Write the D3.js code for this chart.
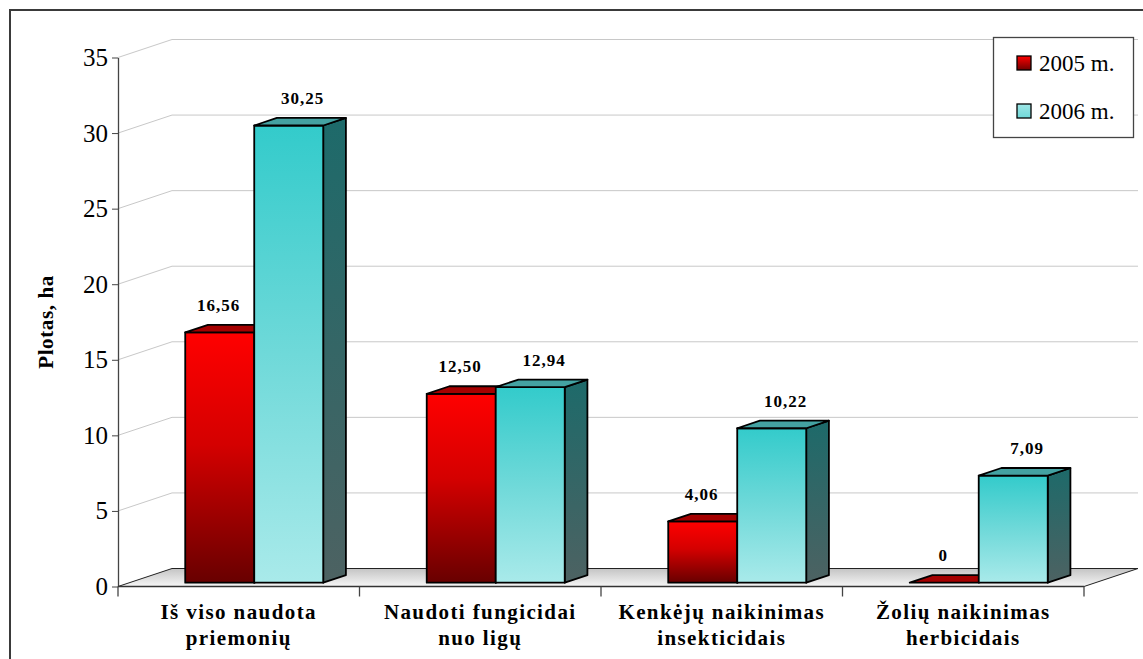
<!DOCTYPE html>
<html>
<head>
<meta charset="utf-8">
<script src="https://cdn.jsdelivr.net/npm/d3@7"></script>
<style>
  html, body { margin: 0; padding: 0; background: #ffffff; }
  svg { display: block; }
  text { font-family: "Liberation Serif", "Times New Roman", serif; fill: #000; }
</style>
</head>
<body>
<svg id="chart" width="1143" height="659"></svg>
<script>
// Treated area by plant protection product type, 2005 vs 2006
const categories = [
  "Iš viso naudota\npriemonių",
  "Naudoti fungicidai\nnuo ligų",
  "Kenkėjų naikinimas\ninsekticidais",
  "Žolių naikinimas\nherbicidais"
];
const seriesNames = ["2005 m.", "2006 m."];
const values2005 = [16.56, 12.50, 4.06, 0];
const values2006 = [30.25, 12.94, 10.22, 7.09];
const yTicks = [0, 5, 10, 15, 20, 25, 30, 35];
const yTitle = "Plotas, ha";

const svg = d3.select("#chart");
const defs = svg.append("defs");

// plot frame (front plane) and oblique depth vector
const plot = { left: 118, right: 1084, bottom: 586.5, top: 57.5 };
const DEPTH = { dx: 54, dy: -18 };
const barDepth = { t0: 0.21, t1: 0.63 };

const x = d3.scaleBand().domain(categories).range([plot.left, plot.right]).padding(0);
const xSub = d3.scaleBand().domain(seriesNames).range([0, x.bandwidth()])
  .paddingInner(0).paddingOuter(0.75).align(0.54);
const y = d3.scaleLinear().domain([0, 35]).range([plot.bottom, plot.top]);

const proj = (px, py, t) => [px + DEPTH.dx * t, py + DEPTH.dy * t];
const poly = pts => "M" + pts.map(p => p.join(",")).join("L") + "Z";

function vGrad(id, stops, horizontal) {
  const g = defs.append("linearGradient").attr("id", id)
    .attr("x1", 0).attr("y1", 0).attr("x2", horizontal ? 1 : 0).attr("y2", horizontal ? 0 : 1);
  stops.forEach(([o, c]) => g.append("stop").attr("offset", o).attr("stop-color", c));
}
vGrad("redFront", [[0, "#ff0000"], [0.45, "#d40000"], [1, "#680000"]]);
vGrad("cyanFront", [[0, "#33cbcb"], [0.5, "#6fd9d9"], [1, "#a9eaea"]]);
vGrad("cyanSide", [[0, "#1d6a6a"], [1, "#4d6262"]]);
vGrad("floorFill", [[0, "#c4c4c4"], [1, "#f6f6f6"]]);
vGrad("redSwatch", [[0, "#ff0000"], [1, "#700000"]]);
vGrad("cyanSwatch", [[0, "#9fe6e6"], [1, "#6fd9d9"]]);

const style = {
  "2005 m.": { front: "url(#redFront)", top: "#a50000", side: "#600000", swatch: "url(#redSwatch)" },
  "2006 m.": { front: "url(#cyanFront)", top: "#44a2a2", side: "url(#cyanSide)", swatch: "url(#cyanSwatch)" }
};

// outer chart border
svg.append("rect").attr("x", 10).attr("y", 10).attr("width", 1200).attr("height", 700)
  .attr("fill", "#fff").attr("stroke", "#3a3a3a").attr("stroke-width", 2);

// gridlines: back wall + left side wall
const grid = svg.append("g").attr("stroke", "#c8c8c8").attr("stroke-width", 1).attr("fill", "none");
yTicks.filter(v => v > 0).forEach(v => {
  const a = [plot.left, y(v)];
  const b = proj(plot.left, y(v), 1);
  const c = proj(plot.right, y(v), 1);
  grid.append("path").attr("d", `M${a}L${b}L${c}`);
});

// floor
const f0 = [plot.left, y(0)], f1 = [plot.right, y(0)];
svg.append("path")
  .attr("d", poly([f0, f1, proj(plot.right, y(0), 1), proj(plot.left, y(0), 1)]))
  .attr("fill", "url(#floorFill)").attr("stroke", "#222").attr("stroke-width", 1);

// value axis
const yAxis = svg.append("g").attr("transform", `translate(${plot.left},0)`)
  .call(d3.axisLeft(y).tickValues(yTicks).tickSize(6).tickSizeOuter(0).tickPadding(4).tickFormat(d3.format("d")));
yAxis.select(".domain").attr("stroke", "#444").attr("stroke-width", 1.3);
yAxis.selectAll(".tick line").attr("stroke", "#444");
yAxis.selectAll(".tick text").style("font-family", "Liberation Serif").style("font-size", "25px").attr("fill", "#000");
// extend the axis line to the category baseline ticks
svg.append("line").attr("x1", plot.left).attr("x2", plot.left).attr("y1", y(0)).attr("y2", y(0) + 10)
  .attr("stroke", "#444").attr("stroke-width", 1.3);

// category axis line + boundary ticks
svg.append("line").attr("x1", plot.left).attr("x2", plot.right).attr("y1", y(0)).attr("y2", y(0))
  .attr("stroke", "#333").attr("stroke-width", 1.5);
categories.forEach((c, i) => {
  const xr = x(c) + x.bandwidth();
  svg.append("line").attr("x1", xr).attr("x2", xr).attr("y1", y(0)).attr("y2", y(0) + 10)
    .attr("stroke", "#444").attr("stroke-width", 1.3);
});

// category labels
const catLab = svg.append("g");
categories.forEach(c => {
  const t = catLab.append("text").attr("text-anchor", "middle")
    .style("font-size", "21px").style("font-weight", "bold").style("letter-spacing", "1.4px");
  c.split("\n").forEach((line, li) => {
    t.append("tspan").attr("x", x(c) + x.bandwidth() / 2).attr("y", 619 + li * 26).text(line);
  });
});

// y title
svg.append("text")
  .attr("transform", `translate(53,${(y(0) + y(35)) / 2}) rotate(-90)`)
  .attr("text-anchor", "middle")
  .style("font-size", "21px").style("font-weight", "bold").style("letter-spacing", "0.6px")
  .text(yTitle);

// 3D columns
const fmt = v => v === 0 ? "0" : d3.format(".2f")(v).replace(".", ",");
const bars = svg.append("g");
const labels = [];
categories.forEach((c, i) => {
  [[seriesNames[0], values2005[i]], [seriesNames[1], values2006[i]]].forEach(([s, v]) => {
    const xl = x(c) + xSub(s), xr = xl + xSub.bandwidth();
    const yb = y(0), yt = y(v);
    const st = style[s];
    const g = bars.append("g").attr("stroke", "#000").attr("stroke-width", 1.8).attr("stroke-linejoin", "round");
    const F = (px, py) => proj(px, py, barDepth.t0);
    const B = (px, py) => proj(px, py, barDepth.t1);
    if (v > 0) {
      // side face
      g.append("path").attr("d", poly([F(xr, yt), B(xr, yt), B(xr, yb), F(xr, yb)])).attr("fill", st.side);
      // front face
      g.append("path").attr("d", poly([F(xl, yt), F(xr, yt), F(xr, yb), F(xl, yb)])).attr("fill", st.front);
    }
    // top face
    g.append("path").attr("d", poly([F(xl, yt), F(xr, yt), B(xr, yt), B(xl, yt)])).attr("fill", st.top);
    const topMid = (F(xl, yt)[0] + F(xr, yt)[0]) / 2;
    labels.push({ x: s === seriesNames[0] ? topMid - 1 : topMid + 14, y: B(xl, yt)[1] - 14, text: fmt(v) });
  });
});

svg.append("g").selectAll("text").data(labels).join("text")
  .attr("x", d => d.x).attr("y", d => d.y).attr("text-anchor", "middle")
  .style("font-size", "17px").style("font-weight", "bold").style("letter-spacing", "1px")
  .text(d => d.text);

// legend
const legend = svg.append("g");
legend.append("rect").attr("x", 993.5).attr("y", 37.5).attr("width", 140).attr("height", 100)
  .attr("fill", "#fff").attr("stroke", "#444").attr("stroke-width", 1.3);
seriesNames.forEach((s, i) => {
  const yy = 56 + i * 48;
  legend.append("rect").attr("x", 1017).attr("y", yy).attr("width", 14).attr("height", 14)
    .attr("fill", style[s].swatch).attr("stroke", "#000").attr("stroke-width", 1.3);
  legend.append("text").attr("x", 1039).attr("y", yy + 14.5)
    .style("font-size", "23px").text(s);
});
</script>
</body>
</html>
